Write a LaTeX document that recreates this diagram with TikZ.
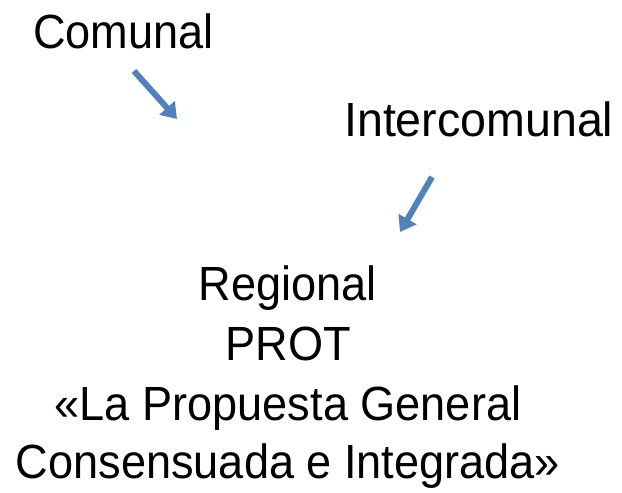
\documentclass[tikz,border=0pt]{standalone}
\usepackage{fontspec}
\setmainfont{Liberation Sans}[FakeStretch=0.94]
\usetikzlibrary{arrows.meta}
\definecolor{arrowblue}{HTML}{4F81BD}
\tikzset{
  lbl/.style={inner sep=0pt, font=\fontsize{48}{58}\selectfont},
  conn/.style={draw=arrowblue, line width=6pt, -{Triangle[length=15pt,width=20pt]}}
}
\begin{document}
\begin{tikzpicture}[x=1pt,y=-1pt]
\useasboundingbox (0,0) rectangle (622,493);
\node[lbl, anchor=base west] (comunal) at (33,48) {Comunal};
\node[lbl, anchor=base west] (inter) at (344,136) {\addfontfeature{FakeStretch=0.97}Intercomunal};
\node[lbl, anchor=base] (regional) at (288,300) {Regional};
\node[lbl, anchor=base] (prot) at (288,360) {PROT};
\node[lbl, anchor=base] (prop) at (288,420) {«La Propuesta General};
\node[lbl, anchor=base] (cons) at (288,478) {Consensuada e Integrada»};
\coordinate (a1s) at (134,71);
\coordinate (a1e) at (177,119);
\coordinate (a2s) at (432,177);
\coordinate (a2e) at (400,232);
\draw[conn] (a1s) -- (a1e);
\draw[conn] (a2s) -- (a2e);
\end{tikzpicture}
\end{document}
